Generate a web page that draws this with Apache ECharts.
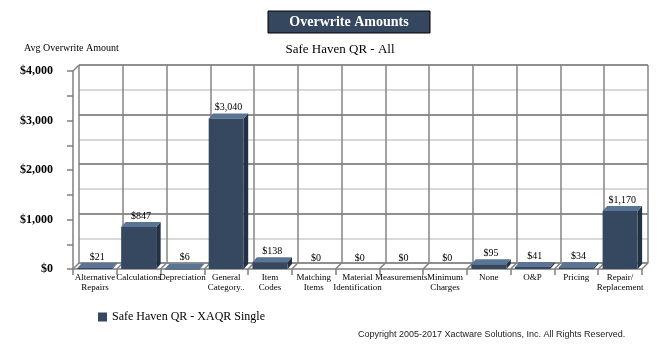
<!DOCTYPE html>
<html><head><meta charset="utf-8">
<script src="https://cdn.jsdelivr.net/npm/echarts@6/dist/echarts.min.js"></script>
<style>html,body{margin:0;padding:0;background:#fff}#c{width:672px;height:346px}</style>
</head><body><div id="c"></div>
<script>
const categories = ['Alternative\nRepairs','Calculations','Depreciation','General\nCategory..','Item\nCodes','Matching\nItems','Material\nIdentification','Measurements','Minimum\nCharges','None','O&P','Pricing','Repair/\nReplacement'];
const values = [21, 847, 6, 3040, 138, 0, 0, 0, 0, 95, 41, 34, 1170];
const valueLabels = ['$21','$847','$6','$3,040','$138','$0','$0','$0','$0','$95','$41','$34','$1,170'];
const seriesName = 'Safe Haven QR - XAQR Single';
const chartTitle = 'Overwrite Amounts';
const subTitle = 'Safe Haven QR - All';
const yAxisTitle = 'Avg Overwrite Amount';
const copyright = 'Copyright 2005-2017 Xactware Solutions, Inc. All Rights Reserved.';
const yMin = 0, yMax = 4000, yStep = 500;

const DX = 6, DY = 6;       // depth of the back wall
const BDX = 4.5, BDY = 5;   // depth of bars
const SERIF = '"Liberation Serif", "Times New Roman", serif';
const FRONT = {left: 73, top: 71, width: 569, height: 198};

const chart = echarts.init(document.getElementById('c'), null, {renderer: 'canvas'});
const option = {
  animation: false,
  backgroundColor: '#fff',
  grid: [
    {left: FRONT.left, top: FRONT.top, width: FRONT.width, height: FRONT.height},
    {left: FRONT.left + DX, top: FRONT.top - DY, width: FRONT.width, height: FRONT.height}
  ],
  xAxis: [
    {type: 'category', gridIndex: 0, data: categories, boundaryGap: true,
     axisLine: {lineStyle: {color: '#808080', width: 1.5}},
     axisTick: {show: true, interval: 0, length: 6, lineStyle: {color: '#808080', width: 1.5}},
     axisLabel: {interval: 0, fontFamily: SERIF, fontSize: 9, lineHeight: 10, color: '#000', margin: 4},
     splitLine: {show: false}},
    {type: 'category', gridIndex: 1, data: categories, boundaryGap: true,
     axisLine: {show: false}, axisTick: {show: false}, axisLabel: {show: false},
     splitLine: {show: true, interval: 0, lineStyle: {color: '#858585', width: 1.5}}}
  ],
  yAxis: [
    {type: 'value', gridIndex: 0, min: yMin, max: yMax, interval: yStep,
     axisLine: {show: true, lineStyle: {color: '#808080', width: 1.5}},
     axisTick: {show: true, length: 6, lineStyle: {color: '#808080', width: 1.5}},
     axisLabel: {formatter: v => v % 1000 === 0 ? '$' + v.toLocaleString('en-US') : '',
                 fontFamily: SERIF, fontSize: 12, fontWeight: 'bold', color: '#000', margin: 20},
     splitLine: {show: false}},
    {type: 'value', gridIndex: 1, min: yMin, max: yMax, interval: yStep,
     axisLine: {show: false}, axisTick: {show: false}, axisLabel: {show: false},
     splitLine: {show: true, lineStyle: {color: ['#6a6a6a', '#cccccc'], width: 1.5}}}
  ],
  legend: {
    data: [seriesName], left: 93, top: 306, icon: 'rect', itemWidth: 9, itemHeight: 9, itemGap: 5,
    textStyle: {fontFamily: SERIF, fontSize: 12, color: '#000'}
  },
  graphic: [
    {type: 'rect', shape: {x: 268, y: 11, width: 162, height: 22}, style: {fill: '#34475e', stroke: '#000', lineWidth: 1}},
    {type: 'text', style: {text: chartTitle, x: 349, y: 22.5, textAlign: 'center', textVerticalAlign: 'middle',
      font: 'bold 14px ' + SERIF, fill: '#fff'}},
    {type: 'text', style: {text: subTitle, x: 340, y: 50, textAlign: 'center', textVerticalAlign: 'middle',
      font: '13px ' + SERIF, fill: '#000'}},
    {type: 'text', style: {text: yAxisTitle, x: 24, y: 48, textAlign: 'left', textVerticalAlign: 'middle',
      font: '10px ' + SERIF, fill: '#000'}},
    {type: 'text', style: {text: copyright, x: 358, y: 335, textAlign: 'left', textVerticalAlign: 'middle',
      font: '9px "Liberation Sans", Arial, sans-serif', fill: '#222'}}
  ],
  series: [
    {
      type: 'custom', name: 'frame', xAxisIndex: 0, yAxisIndex: 0, silent: true, z: 1,
      data: [[0, 0]],
      renderItem: function (params, api) {
        const w = api.size([1, 0])[0];
        const p0 = api.coord([0, yMin]);
        const pTop = api.coord([0, yMax]);
        const xs = p0[0] - w / 2;
        const children = [];
        const ls = {stroke: '#808080', lineWidth: 1.5};
        for (let b = 0; b <= categories.length; b++) {
          const x = xs + b * w;
          children.push({type: 'line', shape: {x1: x, y1: p0[1], x2: x + DX, y2: p0[1] - DY}, style: ls});
        }
        children.push({type: 'line', shape: {x1: xs, y1: pTop[1], x2: xs + DX, y2: pTop[1] - DY}, style: ls});
        return {type: 'group', children: children};
      }
    },
    {
      type: 'custom', name: seriesName, xAxisIndex: 0, yAxisIndex: 0, z: 3,
      itemStyle: {color: '#36485f'},
      data: values.map((v, i) => [i, v]),
      renderItem: function (params, api) {
        const i = api.value(0), v = api.value(1);
        const top = api.coord([i, v]);
        const base = api.coord([i, 0]);
        const bw = api.size([1, 0])[0] * 0.8;
        const x0 = top[0] - bw / 2, x1 = top[0] + bw / 2;
        const children = [];
        if (v > 0) {
          children.push({type: 'polygon', shape: {points: [[x1, top[1]], [x1 + BDX, top[1] - BDY], [x1 + BDX, base[1] - BDY], [x1, base[1]]]},
            style: {fill: '#233144'}});
          children.push({type: 'polygon', shape: {points: [[x0, top[1]], [x0 + BDX, top[1] - BDY], [x1 + BDX, top[1] - BDY], [x1, top[1]]]},
            style: {fill: '#5a7496'}});
          children.push({type: 'rect', shape: {x: x0, y: top[1], width: bw, height: Math.max(base[1] - top[1], 0.8)},
            style: {fill: '#36485f'}});
        }
        children.push({type: 'text', style: {text: valueLabels[i], x: top[0] + BDX / 2, y: top[1] - BDY - 1,
          textAlign: 'center', textVerticalAlign: 'bottom', font: '10px ' + SERIF, fill: '#000'}});
        return {type: 'group', children: children};
      }
    }
  ]
};
chart.setOption(option);
</script>
</body></html>
